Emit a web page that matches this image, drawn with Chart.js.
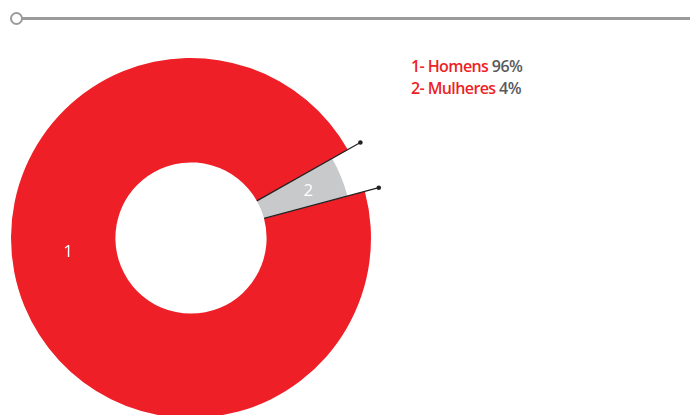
<!DOCTYPE html>
<html>
<head>
<meta charset="utf-8">
<script src="https://cdn.jsdelivr.net/npm/chart.js@4.4.0/dist/chart.umd.min.js"></script>
<style>
  html, body { margin: 0; padding: 0; background: #fff; overflow: hidden; }
  body { width: 690px; height: 415px; position: relative; }
  .rule { position: absolute; left: 22px; right: 0; top: 17px; height: 3px; background: #9b9b9b; }
  .knob { position: absolute; left: 10px; top: 12px; width: 9px; height: 9px; border: 2.5px solid #9b9b9b; border-radius: 50%; background: #fff; }
  .chart-box { position: absolute; left: -9px; top: 38px; width: 400px; height: 400px; }
  #legend { position: absolute; left: 411px; top: 55px; font-family: "Open Sans", sans-serif; font-weight: 600; font-size: 16px; line-height: 22px; letter-spacing: -0.6px; }
  #legend .name { color: #ee1f26; }
  #legend .pct { color: #58595b; }
</style>
</head>
<body>
<div class="rule"></div>
<div class="knob"></div>
<div class="chart-box"><canvas id="genderChart"></canvas></div>
<div id="legend"></div>
<script>
const labels = ["Homens", "Mulheres"];
const shares = [96, 4];
const sliceColors = ["#ee1f26", "#c8c9cb"];

document.addEventListener('DOMContentLoaded', () => {
    buildLegend();
    renderDonut();
});

function buildLegend() {
    const box = document.getElementById('legend');
    box.innerHTML = labels.map((name, i) =>
        `<div><span class="name">${i + 1}- ${name}</span> <span class="pct">${shares[i]}%</span></div>`
    ).join('');
}

// the small slice sits a bit lower than the ring and gets pin lines on its edges
const sliceCallouts = {
    id: 'sliceCallouts',
    afterDatasetsUpdate(chart) {
        const arcs = chart.getDatasetMeta(0).data;
        arcs[1].outerRadius = arcs[0].outerRadius * 0.9;
    },
    afterDatasetsDraw(chart, args, opts) {
        const ctx = chart.ctx;
        const arcs = chart.getDatasetMeta(0).data;
        const small = arcs[1];
        const r2 = arcs[0].outerRadius * 1.08;
        ctx.save();
        ctx.strokeStyle = "#222";
        ctx.fillStyle = "#222";
        ctx.lineWidth = 1.2;
        [small.startAngle, small.endAngle].forEach(a => {
            const x1 = small.x + Math.cos(a) * small.innerRadius;
            const y1 = small.y + Math.sin(a) * small.innerRadius;
            const x2 = small.x + Math.cos(a) * r2;
            const y2 = small.y + Math.sin(a) * r2;
            ctx.beginPath();
            ctx.moveTo(x1, y1);
            ctx.lineTo(x2, y2);
            ctx.stroke();
            ctx.beginPath();
            ctx.arc(x2, y2, 2.3, 0, Math.PI * 2);
            ctx.fill();
        });
        // slice numbers
        ctx.fillStyle = "#fff";
        ctx.font = "17px 'Open Sans', sans-serif";
        ctx.textAlign = "center";
        ctx.textBaseline = "middle";
        arcs.forEach((arc, i) => {
            const a = opts.labelAngles[i] !== null ? opts.labelAngles[i] * Math.PI / 180 : (arc.startAngle + arc.endAngle) / 2;
            const r = arc.innerRadius + (arcs[0].outerRadius - arc.innerRadius) * opts.labelDepth[i];
            ctx.fillText(String(i + 1), arc.x + Math.cos(a) * r, arc.y + Math.sin(a) * r + 1);
        });
        ctx.restore();
    }
};

function renderDonut() {
    const ctx = document.getElementById('genderChart');
    new Chart(ctx, {
        type: "doughnut",
        data: {
            labels: labels,
            datasets: [{
                data: shares,
                backgroundColor: sliceColors,
                borderWidth: 0,
                hoverOffset: 0
            }]
        },
        options: {
            responsive: true,
            maintainAspectRatio: false,
            animation: false,
            rotation: 75,
            cutout: "42%",
            layout: { padding: 20 },
            plugins: {
                legend: { display: false },
                tooltip: { enabled: false },
                sliceCallouts: { labelAngles: [174, null], labelDepth: [0.46, 0.49] }
            }
        },
        plugins: [sliceCallouts]
    });
}
</script>
</body>
</html>
